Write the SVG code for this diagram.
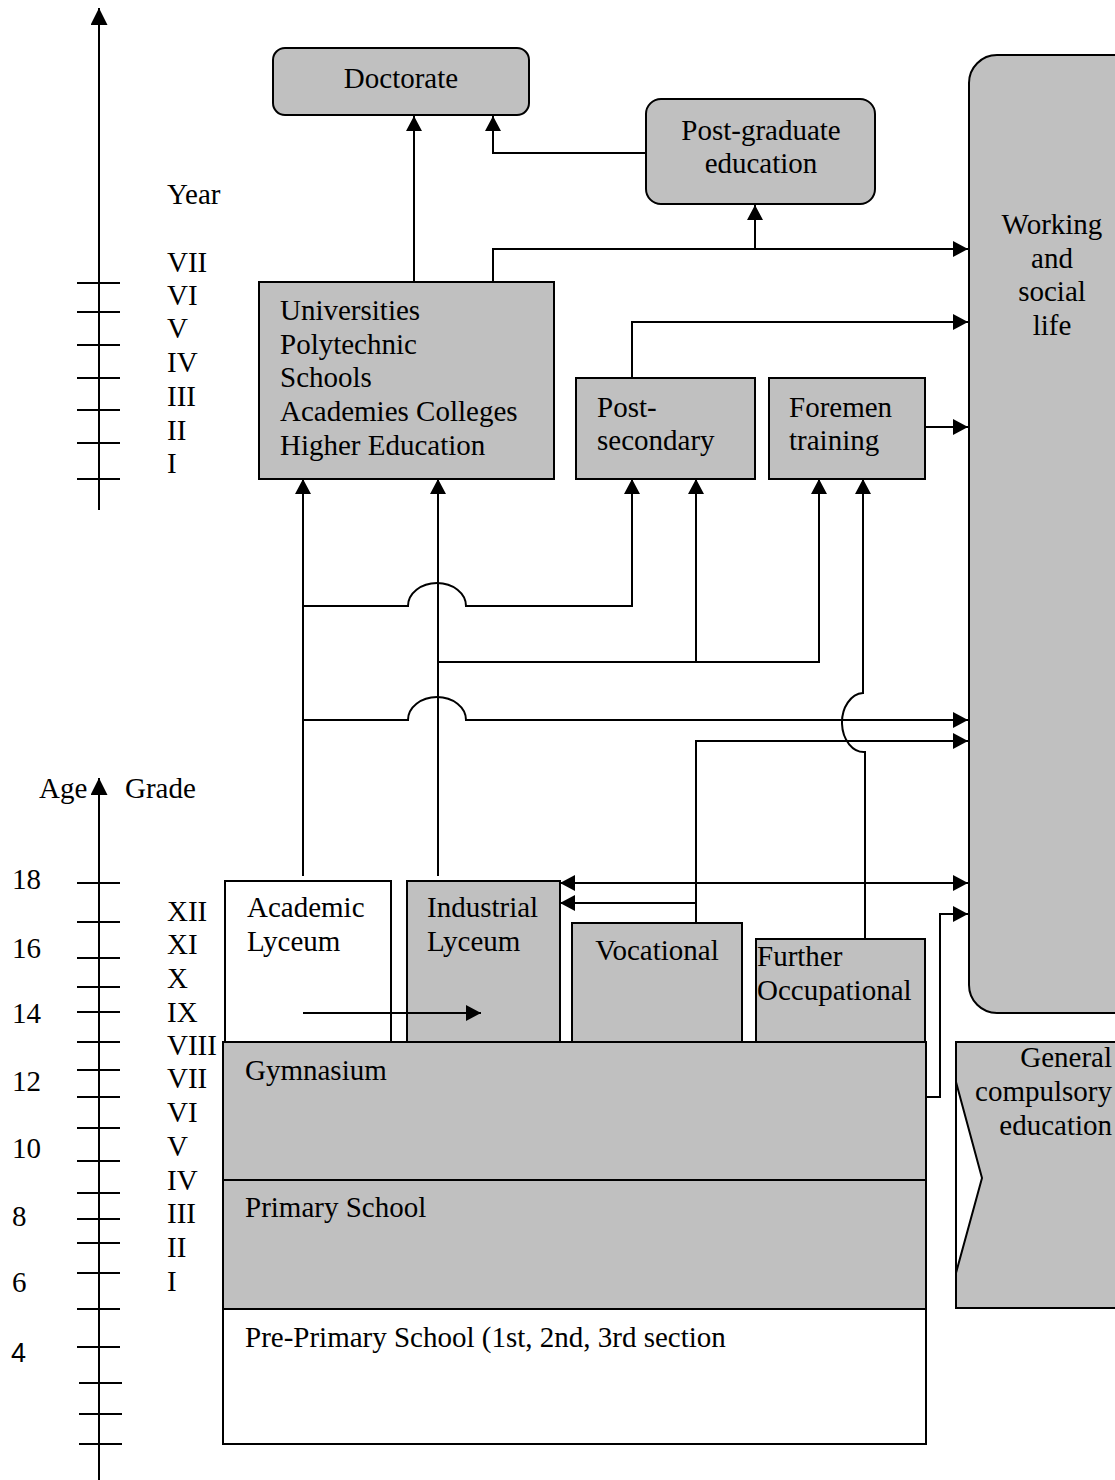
<svg xmlns="http://www.w3.org/2000/svg" width="1115" height="1480" viewBox="0 0 1115 1480">
<style>
text{font-family:"Liberation Serif","Times New Roman",serif;font-size:29px;fill:#000}
.c{text-anchor:middle}
.e{text-anchor:end}
.box{fill:#c0c0c0;stroke:#000;stroke-width:2}
.wbox{fill:#fff;stroke:#000;stroke-width:2}
.ln{fill:none;stroke:#000;stroke-width:2}
.ar{fill:none;stroke:#000;stroke-width:2;marker-end:url(#ah)}
.tick{stroke:#000;stroke-width:2}
</style>
<defs>
<marker id="ah" markerUnits="userSpaceOnUse" markerWidth="15" markerHeight="16" refX="15" refY="8" orient="auto">
<path d="M0,0 L15,8 L0,16 z" fill="#000"/>
</marker>
<marker id="ahs" markerUnits="userSpaceOnUse" markerWidth="15" markerHeight="16" refX="15" refY="8" orient="auto-start-reverse">
<path d="M0,0 L15,8 L0,16 z" fill="#000"/>
</marker>
<marker id="ax" markerUnits="userSpaceOnUse" markerWidth="17" markerHeight="17" refX="17" refY="8.5" orient="auto">
<path d="M0,0 L17,8.5 L0,17 z" fill="#000"/>
</marker>
</defs>
<rect width="1115" height="1480" fill="#fff"/>

<g id="year-axis">
<line x1="99" y1="510" x2="99" y2="8" class="tick" marker-end="url(#ax)"/>
<line x1="77" y1="283" x2="120" y2="283" class="tick"/>
<line x1="77" y1="312" x2="120" y2="312" class="tick"/>
<line x1="77" y1="345" x2="120" y2="345" class="tick"/>
<line x1="77" y1="378" x2="120" y2="378" class="tick"/>
<line x1="77" y1="410" x2="120" y2="410" class="tick"/>
<line x1="77" y1="443" x2="120" y2="443" class="tick"/>
<line x1="77" y1="479" x2="120" y2="479" class="tick"/>
<text x="167" y="204">Year</text>
<text x="167" y="272">VII</text>
<text x="167" y="305">VI</text>
<text x="167" y="338">V</text>
<text x="167" y="372">IV</text>
<text x="167" y="406">III</text>
<text x="167" y="440">II</text>
<text x="167" y="473">I</text>
</g>

<g id="age-axis">
<line x1="99" y1="1480" x2="99" y2="778" class="tick" marker-end="url(#ax)"/>
<line x1="77" y1="883" x2="120" y2="883" class="tick"/>
<line x1="77" y1="922" x2="120" y2="922" class="tick"/>
<line x1="77" y1="958" x2="120" y2="958" class="tick"/>
<line x1="77" y1="987" x2="120" y2="987" class="tick"/>
<line x1="77" y1="1012" x2="120" y2="1012" class="tick"/>
<line x1="77" y1="1042" x2="120" y2="1042" class="tick"/>
<line x1="77" y1="1070" x2="120" y2="1070" class="tick"/>
<line x1="77" y1="1097" x2="120" y2="1097" class="tick"/>
<line x1="77" y1="1128" x2="120" y2="1128" class="tick"/>
<line x1="77" y1="1161" x2="120" y2="1161" class="tick"/>
<line x1="77" y1="1193" x2="120" y2="1193" class="tick"/>
<line x1="77" y1="1219" x2="120" y2="1219" class="tick"/>
<line x1="77" y1="1243" x2="120" y2="1243" class="tick"/>
<line x1="77" y1="1273" x2="120" y2="1273" class="tick"/>
<line x1="77" y1="1309" x2="120" y2="1309" class="tick"/>
<line x1="77" y1="1347" x2="120" y2="1347" class="tick"/>
<line x1="79" y1="1383" x2="122" y2="1383" class="tick"/>
<line x1="79" y1="1414" x2="122" y2="1414" class="tick"/>
<line x1="79" y1="1444" x2="122" y2="1444" class="tick"/>
<text x="39" y="798">Age</text>
<text x="125" y="798">Grade</text>
<text x="12" y="889">18</text>
<text x="12" y="958">16</text>
<text x="12" y="1023">14</text>
<text x="12" y="1091">12</text>
<text x="12" y="1158">10</text>
<text x="12" y="1226">8</text>
<text x="12" y="1292">6</text>
<text x="11" y="1362" style="font-family:'Liberation Sans',Arial,sans-serif;font-size:27px">4</text>
<text x="167" y="921">XII</text>
<text x="167" y="954">XI</text>
<text x="167" y="988">X</text>
<text x="167" y="1022">IX</text>
<text x="167" y="1055">VIII</text>
<text x="167" y="1088">VII</text>
<text x="167" y="1122">VI</text>
<text x="167" y="1156">V</text>
<text x="167" y="1190">IV</text>
<text x="167" y="1223">III</text>
<text x="167" y="1257">II</text>
<text x="167" y="1291">I</text>
</g>

<g id="doctorate">
<rect class="box" x="273" y="48" width="256" height="67" rx="12"/>
<text class="c" x="401" y="88">Doctorate</text>
</g>
<g id="post-graduate">
<rect class="box" x="646" y="99" width="229" height="105" rx="15"/>
<text class="c" x="761" y="140">Post-graduate</text>
<text class="c" x="761" y="173">education</text>
</g>
<g id="universities">
<rect class="box" x="259" y="282" width="295" height="197"/>
<text x="280" y="320">Universities</text>
<text x="280" y="354">Polytechnic</text>
<text x="280" y="387">Schools</text>
<text x="280" y="421">Academies Colleges</text>
<text x="280" y="455">Higher Education</text>
</g>
<g id="post-secondary">
<rect class="box" x="576" y="378" width="179" height="101"/>
<text x="597" y="417">Post-</text>
<text x="597" y="450">secondary</text>
</g>
<g id="foremen">
<rect class="box" x="769" y="378" width="156" height="101"/>
<text x="789" y="417">Foremen</text>
<text x="789" y="450">training</text>
</g>
<g id="working">
<rect class="box" x="969" y="55" width="200" height="958" rx="28"/>
<text class="c" x="1052" y="234">Working</text>
<text class="c" x="1052" y="268">and</text>
<text class="c" x="1052" y="301">social</text>
<text class="c" x="1052" y="335">life</text>
</g>
<g id="academic-lyceum">
<rect class="wbox" x="225" y="881" width="166" height="161"/>
<text x="247" y="917">Academic</text>
<text x="247" y="951">Lyceum</text>
</g>
<g id="industrial-lyceum">
<rect class="box" x="407" y="881" width="153" height="161"/>
<text x="427" y="917">Industrial</text>
<text x="427" y="951">Lyceum</text>
</g>
<g id="vocational">
<rect class="box" x="572" y="923" width="170" height="119"/>
<text class="c" x="657" y="960">Vocational</text>
</g>
<g id="further-occupational">
<rect class="box" x="756" y="939" width="169" height="103"/>
<text x="757" y="966">Further</text>
<text x="757" y="1000">Occupational</text>
</g>
<g id="gymnasium">
<rect class="box" x="223" y="1042" width="703" height="138"/>
<text x="245" y="1080">Gymnasium</text>
</g>
<g id="primary">
<rect class="box" x="223" y="1180" width="703" height="129"/>
<text x="245" y="1217">Primary School</text>
</g>
<g id="pre-primary">
<rect class="wbox" x="223" y="1309" width="703" height="135"/>
<text x="245" y="1347">Pre-Primary School (1st, 2nd, 3rd section</text>
</g>
<g id="general-compulsory">
<rect class="box" x="956" y="1042" width="200" height="266"/>
<polygon points="956,1082 982,1178 956,1273" fill="#fff" stroke="#000" stroke-width="2"/>
<text class="e" x="1112" y="1067">General</text>
<text class="e" x="1112" y="1101">compulsory</text>
<text class="e" x="1112" y="1135">education</text>
</g>

<g id="connectors">
<path class="ar" d="M414,282 V116"/>
<path class="ar" d="M646,153 H493 V116"/>
<path class="ar" d="M493,282 V249 H968"/>
<path class="ar" d="M755,249 V205"/>
<path class="ar" d="M632,378 V322 H968"/>
<path class="ar" d="M925,427 H968"/>
<path class="ar" d="M303,876 V479"/>
<path class="ar" d="M438,876 V479"/>
<path class="ar" d="M303,606 H408 A29,23 0 0 1 466,606 H632 V479"/>
<path class="ar" d="M438,662 H696 V479"/>
<path class="ar" d="M696,662 H819 V479"/>
<path class="ar" d="M303,720 H408 A29,23 0 0 1 466,720 H968"/>
<path class="ar" d="M865,939 V752 A22,29.5 0 0 1 863,693 V479"/>
<path class="ar" d="M696,923 V741 H968"/>
<path class="ln" d="M560,883 H968" marker-start="url(#ahs)" marker-end="url(#ahs)"/>
<path class="ar" d="M696,903 H560"/>
<path class="ar" d="M926,1097 H940 V914 H968"/>
<path class="ar" d="M303,1013 H481"/>
</g>
</svg>
